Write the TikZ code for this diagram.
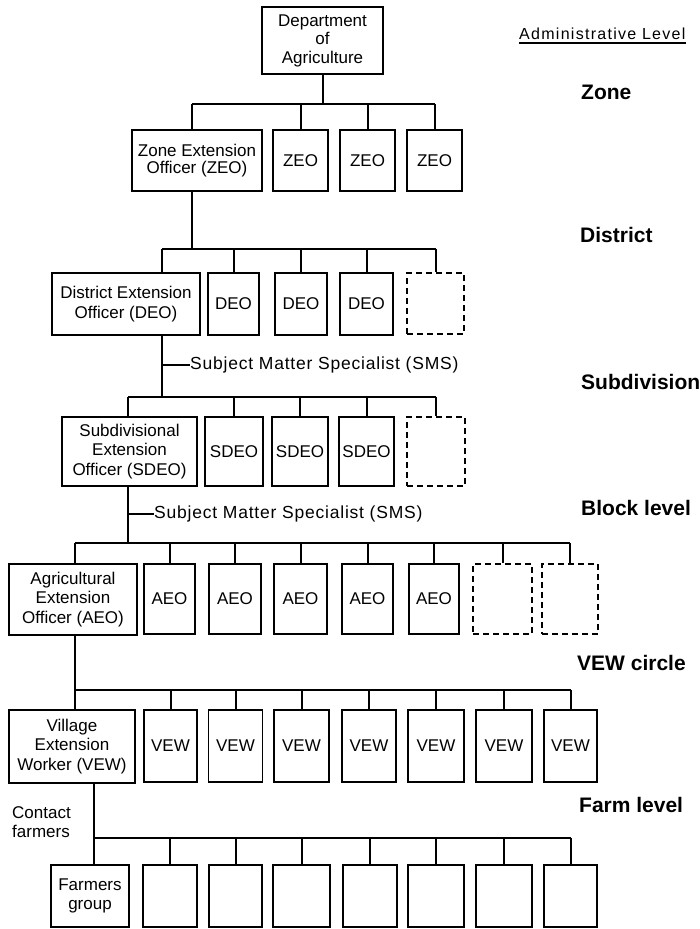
\documentclass[tikz,border=0pt]{standalone}
\usepackage{fontspec}
\setmainfont{Liberation Sans}
\newfontfamily\smsfamily{Liberation Sans}[LetterSpace=4.5]
\newfontfamily\admfamily{Liberation Sans}[LetterSpace=8]
\newcommand{\boxfont}{\fontsize{17}{19.5}\selectfont}
\newcommand{\lvlfont}{\fontsize{21}{25}\selectfont\bfseries}
\newcommand{\smsfont}{\smsfamily\fontsize{17.5}{20}\selectfont}
\newcommand{\admfont}{\admfamily\fontsize{16}{19}\selectfont}
\tikzset{
  box/.style={draw, line width=1.3pt, inner sep=0pt, align=center, font=\boxfont},
  dbox/.style={box, dash pattern=on 6pt off 4pt},
  conn/.style={line width=2pt},
  tick/.style={line width=1.5pt},
  lvl/.style={anchor=base west, inner sep=0pt, font=\lvlfont},
}
\begin{document}
\begin{tikzpicture}[x=1pt,y=-1pt]
\useasboundingbox (0,0) rectangle (699,929);
% ---------- top
\node[box, minimum width=121pt, minimum height=67pt, font=\fontsize{17}{18.5}\selectfont] (dept) at (322.5,40.5) {Department\\of\\Agriculture};
\node[anchor=base west, inner sep=0pt, font=\admfont] (adm) at (519,39) {Administrative Level};
\draw[line width=1.2pt] ([yshift=-4pt]adm.base west) -- ([yshift=-4pt]adm.base east);
% ---------- zone
\coordinate (zbus) at (0,104);
\coordinate (zsp) at (192,0);
\node[box, minimum width=130pt, minimum height=61pt, font=\fontsize{17}{17.5}\selectfont] (zeo) at (197,160.5) {Zone Extension\\Officer (ZEO)};
\node[box, minimum width=55pt, minimum height=61pt] (z1) at (300.5,160.5) {ZEO};
\node[box, minimum width=55pt, minimum height=61pt] (z2) at (367.5,160.5) {ZEO};
\node[box, minimum width=55pt, minimum height=61pt] (z3) at (434.5,160.5) {ZEO};
\draw[conn] (dept.south) -- (dept.south |- zbus);
\draw[conn] (zsp |- zbus) -- (z3.north |- zbus);
\draw[conn] (zsp |- zbus) -- (zsp |- zeo.north);
\foreach \n in {z1,z2,z3} \draw[conn] (\n.north |- zbus) -- (\n.north);
% ---------- district
\coordinate (dbus) at (0,249);
\coordinate (dsp) at (162,0);
\node[box, minimum width=148pt, minimum height=62pt] (deo) at (126,304) {District Extension\\Officer (DEO)};
\node[box, minimum width=51pt, minimum height=62pt] (d1) at (233.5,304) {DEO};
\node[box, minimum width=52pt, minimum height=62pt] (d2) at (301,304) {DEO};
\node[box, minimum width=53pt, minimum height=62pt] (d3) at (366.5,304) {DEO};
\node[dbox, minimum width=57pt, minimum height=61pt] (dd) at (435.5,303.5) {};
\draw[conn] (zsp |- zeo.south) -- (zsp |- dbus);
\draw[conn] (dsp |- dbus) -- (dd.north |- dbus);
\draw[conn] (dsp |- dbus) -- (dsp |- deo.north);
\foreach \n in {d1,d2,d3,dd} \draw[conn] (\n.north |- dbus) -- (\n.north);
% ---------- subdivision
\coordinate (sbus) at (0,397);
\coordinate (ssp) at (128,0);
\node[anchor=west, inner sep=0pt, font=\smsfont] (smsA) at (190,365) {Subject Matter Specialist (SMS)};
\draw[conn] (dsp |- deo.south) -- (dsp |- sbus);
\draw[tick] (smsA.west -| dsp) -- (smsA.west);
\node[box, minimum width=135pt, minimum height=69pt] (sdeo) at (129.5,451.5) {Subdivisional\\Extension\\Officer (SDEO)};
\node[box, minimum width=58pt, minimum height=69pt] (s1) at (234,451.5) {SDEO};
\node[box, minimum width=56pt, minimum height=69pt] (s2) at (300,451.5) {SDEO};
\node[box, minimum width=55pt, minimum height=69pt] (s3) at (366.5,451.5) {SDEO};
\node[dbox, minimum width=58pt, minimum height=69pt] (sd) at (436,451.5) {};
\draw[conn] (ssp |- sbus) -- (sd.north |- sbus);
\draw[conn] (ssp |- sbus) -- (ssp |- sdeo.north);
\foreach \n in {s1,s2,s3,sd} \draw[conn] (\n.north |- sbus) -- (\n.north);
% ---------- block
\coordinate (abus) at (0,543);
\coordinate (asp) at (75,0);
\node[anchor=west, inner sep=0pt, font=\smsfont] (smsB) at (154,514) {Subject Matter Specialist (SMS)};
\draw[conn] (ssp |- sdeo.south) -- (ssp |- abus);
\draw[tick] (smsB.west -| ssp) -- (smsB.west);
\node[box, minimum width=128pt, minimum height=71pt] (aeo) at (73,599.5) {Agricultural\\Extension\\Officer (AEO)};
\node[box, minimum width=51pt, minimum height=70pt] (a1) at (169.5,599) {AEO};
\node[box, minimum width=52pt, minimum height=70pt] (a2) at (235,599) {AEO};
\node[box, minimum width=53pt, minimum height=70pt] (a3) at (300.5,599) {AEO};
\node[box, minimum width=51pt, minimum height=70pt] (a4) at (367.5,599) {AEO};
\node[box, minimum width=50pt, minimum height=70pt] (a5) at (434,599) {AEO};
\node[dbox, minimum width=59pt, minimum height=70pt] (ad1) at (502.5,599) {};
\node[dbox, minimum width=56pt, minimum height=70pt] (ad2) at (570,599) {};
\draw[conn] (asp |- abus) -- (ad2.north |- abus);
\draw[conn] (asp |- abus) -- (asp |- aeo.north);
\foreach \n in {a1,a2,a3,a4,a5,ad1,ad2} \draw[conn] (\n.north |- abus) -- (\n.north);
% ---------- VEW circle
\coordinate (vbus) at (0,690);
\node[box, minimum width=126pt, minimum height=73pt] (vew) at (72,746.5) {Village\\Extension\\Worker (VEW)};
\node[box, minimum width=53pt, minimum height=72pt] (v1) at (170.5,746) {VEW};
\node[box, minimum width=54pt, minimum height=72pt] (v2) at (235.5,746) {VEW};
\node[box, minimum width=55pt, minimum height=72pt] (v3) at (301.5,746) {VEW};
\node[box, minimum width=54pt, minimum height=72pt] (v4) at (369,746) {VEW};
\node[box, minimum width=56pt, minimum height=72pt] (v5) at (436,746) {VEW};
\node[box, minimum width=56pt, minimum height=72pt] (v6) at (504,746) {VEW};
\node[box, minimum width=53pt, minimum height=72pt] (v7) at (570.5,746) {VEW};
\draw[conn] (asp |- aeo.south) -- (asp |- vbus);
\draw[conn] (asp |- vbus) -- (v7.north |- vbus);
\draw[conn] (asp |- vbus) -- (asp |- vew.north);
\foreach \n in {v1,v2,v3,v4,v5,v6,v7} \draw[conn] (\n.north |- vbus) -- (\n.north);
% ---------- farm
\coordinate (fbus) at (0,838);
\coordinate (fsp) at (94,0);
\node[anchor=west, align=left, inner sep=0pt, font=\boxfont] (contact) at (12,822) {Contact\\farmers};
\node[box, minimum width=78pt, minimum height=62pt] (fg) at (90,896) {Farmers\\group};
\node[box, minimum width=54pt, minimum height=62pt] (f1) at (170,896) {};
\node[box, minimum width=53pt, minimum height=62pt] (f2) at (235.5,896) {};
\node[box, minimum width=57pt, minimum height=62pt] (f3) at (301.5,896) {};
\node[box, minimum width=54pt, minimum height=62pt] (f4) at (370,896) {};
\node[box, minimum width=56pt, minimum height=62pt] (f5) at (436,896) {};
\node[box, minimum width=56pt, minimum height=62pt] (f6) at (504,896) {};
\node[box, minimum width=53pt, minimum height=62pt] (f7) at (570.5,896) {};
\draw[conn] (fsp |- vew.south) -- (fsp |- fg.north);
\draw[conn] (fsp |- fbus) -- (f7.north |- fbus);
\foreach \n in {f1,f2,f3,f4,f5,f6,f7} \draw[conn] (\n.north |- fbus) -- (\n.north);
% ---------- level labels
\node[lvl] (lzone) at (581,99) {Zone};
\node[lvl] (ldist) at (580,242.5) {District};
\node[lvl] (lsub)  at (581,389) {Subdivision};
\node[lvl] (lblk)  at (581,515.5) {Block level};
\node[lvl] (lvew)  at (577,670.5) {VEW circle};
\node[lvl] (lfarm) at (579,812.5) {Farm level};
\end{tikzpicture}
\end{document}
